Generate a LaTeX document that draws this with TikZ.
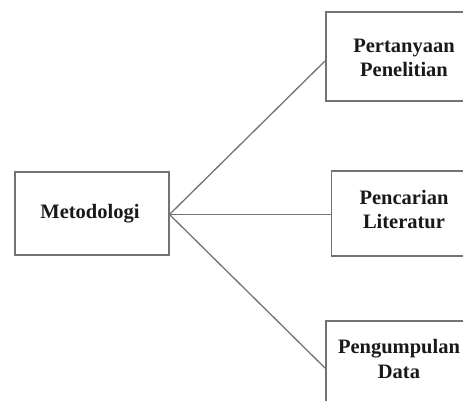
\documentclass[tikz,border=0pt]{standalone}
\usepackage{fontspec}
\setmainfont{Liberation Serif}
\begin{document}
\begin{tikzpicture}[x=1pt,y=-1pt,
  boxstyle/.style={draw=black!55, line width=1.5pt, rectangle, inner sep=0pt, anchor=north west},
  lbl/.style={font=\fontsize{20.5}{24.5}\selectfont\bfseries, align=center, anchor=base, inner sep=0pt, text=black!90},
  conn/.style={draw=black!55, line width=1.3pt}]
\useasboundingbox (0,0) rectangle (463,401);
\clip (0,0) rectangle (463,401);
% boxes
\node[boxstyle, minimum width=154pt, minimum height=83pt] (m) at (14,171) {};
\node[boxstyle, minimum width=160pt, minimum height=89pt] (b1) at (325,11.5) {};
\node[boxstyle, minimum width=147pt, minimum height=85pt] (b2) at (330.5,170) {};
\node[boxstyle, minimum width=150pt, minimum height=100pt] (b3) at (325,320) {};
% labels (anchor = baseline of the last line)
\node[lbl] (tm) at (90,218) {Metodologi};
\node[lbl] (t1) at (404,77) {Pertanyaan\\Penelitian};
\node[lbl] (t2) at (404,228.5) {Pencarian\\Literatur};
\node[lbl] (t3) at (399,378) {Pengumpulan\\Data};
% connector anchor points
\coordinate (s) at (m.east |- 0,214.5);
\coordinate (e1) at (b1.west |- 0,61);
\coordinate (e2) at (b2.west |- 0,214.5);
\coordinate (e3) at (b3.west |- 0,368);
\draw[conn] (s) -- (e1);
\draw[conn] (s) -- (e2);
\draw[conn] (s) -- (e3);
\end{tikzpicture}
\end{document}
